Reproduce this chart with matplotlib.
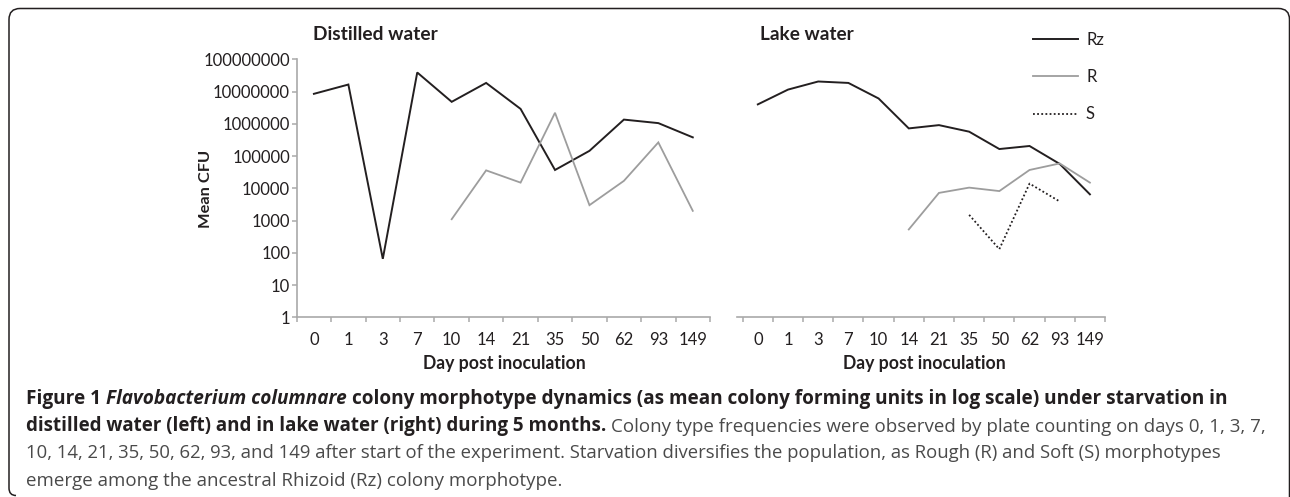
import numpy as np
import matplotlib
matplotlib.use("Agg")
import matplotlib.pyplot as plt
from matplotlib.path import Path
from matplotlib.patches import PathPatch
from matplotlib.ticker import FixedLocator, NullLocator

nan = np.nan

# ---------------- data ----------------
days = ["0", "1", "3", "7", "10", "14", "21", "35", "50", "62", "93", "149"]

distilled_rz = [8.5e6, 1.65e7, 65, 3.9e7, 4.8e6, 1.85e7, 2.9e6, 3.7e4, 1.45e5, 1.35e6, 1.05e6, 3.8e5]
distilled_r = [nan, nan, nan, nan, 1.1e3, 3.6e4, 1.5e4, 2.2e6, 3.0e3, 1.7e4, 2.65e5, 2.0e3]

lake_rz = [4.0e6, 1.15e7, 2.05e7, 1.85e7, 6.1e6, 7.2e5, 9.1e5, 5.7e5, 1.65e5, 2.05e5, 5.7e4, 6.5e3]
lake_r = [nan, nan, nan, nan, nan, 5.3e2, 7.2e3, 1.05e4, 8.2e3, 3.7e4, 5.9e4, 1.5e4]
lake_s = [nan, nan, nan, nan, nan, nan, nan, 1.5e3, 1.3e2, 1.4e4, 3.9e3, nan]

y_ticks = [1, 10, 100, 1000, 10000, 100000, 1000000, 10000000, 100000000]
y_tick_labels = ["1", "10", "100", "1000", "10000", "100000", "1000000", "10000000", "100000000"]

series_labels = ["Rz", "R", "S"]
panel_titles = ["Distilled water", "Lake water"]
y_label = "Mean CFU"
x_label = "Day post inoculation"

caption_lines = [
    [("Figure 1", "bold", "normal"),
     ("Flavobacterium columnare", "bold", "italic"),
     ("colony morphotype dynamics (as mean colony forming units in log scale) under starvation in", "bold", "normal")],
    [("distilled water (left) and in lake water (right) during 5 months.", "bold", "normal"),
     ("Colony type frequencies were observed by plate counting on days 0, 1, 3, 7,", "normal", "normal")],
    [("10, 14, 21, 35, 50, 62, 93, and 149 after start of the experiment. Starvation diversifies the population, as Rough (R) and Soft (S) morphotypes", "normal", "normal")],
    [("emerge among the ancestral Rhizoid (Rz) colony morphotype.", "normal", "normal")],
]

# ---------------- style ----------------
W, H = 1290, 497
CHART_FONT = ["Lato", "DejaVu Sans"]
CAP_FONT = ["Open Sans", "DejaVu Sans"]
DARK = "#231f20"
CAP_GRAY = "#4a4a4a"
R_GRAY = "#9d9d9d"
AXIS_GRAY = "#a9a9a9"

plt.rcParams["font.family"] = CHART_FONT

fig = plt.figure(figsize=(W / 100, H / 100), dpi=100)
fig.patch.set_facecolor("white")
renderer = fig.canvas.get_renderer()


def px_axes(x0, x1, ytop, ybot):
    return fig.add_axes([x0 / W, 1 - ybot / H, (x1 - x0) / W, (ybot - ytop) / H])


def fx(x):
    return x / W


def fy(y):
    return 1 - y / H


ax1 = px_axes(296.7, 710.0, 59.3, 317.3)
ax2 = px_axes(736.7, 1105.0, 59.3, 317.3)

xpos = np.arange(len(days))

for ax in (ax1, ax2):
    ax.set_yscale("log")
    ax.set_ylim(1, 1e8)
    ax.yaxis.set_major_locator(FixedLocator(y_ticks))
    ax.set_yticklabels(y_tick_labels)
    ax.yaxis.set_minor_locator(NullLocator())
    ax.set_xticks(xpos)
    ax.set_xticklabels(days)
    ax.set_xticks(np.arange(-0.5, len(days), 1.0), minor=True)
    ax.tick_params(axis="x", which="major", length=0, pad=10.5, labelsize=12, labelcolor=DARK)
    ax.tick_params(axis="x", which="minor", length=3.3, width=1.1, color=AXIS_GRAY, direction="out")
    ax.tick_params(axis="y", which="major", length=3.6, width=1.1, color=AXIS_GRAY, pad=1.2,
                   labelsize=12, labelcolor=DARK)
    for s in ("top", "right"):
        ax.spines[s].set_visible(False)
    for s in ("left", "bottom"):
        ax.spines[s].set_color(AXIS_GRAY)
        ax.spines[s].set_linewidth(1.2)
    ax.patch.set_alpha(0)

ax1.set_xlim(-0.5, 11.5)
ax2.set_xlim(-0.7, 11.5)
ax2.spines["left"].set_visible(False)
ax2.tick_params(axis="y", left=False, labelleft=False)

ax1.plot(xpos, distilled_rz, color=DARK, lw=1.4, solid_joinstyle="miter")
ax1.plot(xpos, distilled_r, color=R_GRAY, lw=1.3, solid_joinstyle="miter")

l_rz, = ax2.plot(xpos, lake_rz, color=DARK, lw=1.4, solid_joinstyle="miter")
l_r, = ax2.plot(xpos, lake_r, color=R_GRAY, lw=1.3, solid_joinstyle="miter")
l_s, = ax2.plot(xpos, lake_s, color=DARK, lw=1.3, linestyle=(0, (1.0, 1.3)))

leg = ax2.legend([l_rz, l_r, l_s], series_labels, loc="upper left",
                 bbox_to_anchor=(fx(1033), fy(32)), bbox_transform=fig.transFigure,
                 frameon=False, borderpad=0, borderaxespad=0, handlelength=2.7,
                 handletextpad=0.48, labelspacing=1.27, fontsize=12)
for t in leg.get_texts():
    t.set_color(DARK)


def fit_text(t, target):
    bb = t.get_window_extent(renderer)
    w = bb.width if t.get_rotation() == 0 else bb.height
    t.set_fontsize(t.get_fontsize() * target / w)


# titles
for title, x0, tw in zip(panel_titles, (313.0, 760.0), (125.0, 94.0)):
    t = fig.text(fx(x0), fy(40), title, ha="left", va="baseline", fontsize=13,
                 fontweight="bold", color=DARK)
    fit_text(t, tw)

# y label
t = fig.text(fx(206.5), fy(189), y_label, rotation=90, ha="center", va="center",
             fontsize=13, fontweight="bold", color=DARK)
fit_text(t, 78.0)

# x labels
for cx in (504.0, 924.0):
    t = fig.text(fx(cx), fy(368.5), x_label, ha="center", va="baseline", fontsize=13,
                 fontweight="bold", color=DARK)
    fit_text(t, 162.0)


# ---------------- caption ----------------
def space_width(size, weight, style):
    a = fig.text(0, 0, "aa", fontsize=size, fontweight=weight, fontstyle=style, family=CAP_FONT)
    b = fig.text(0, 0, "a a", fontsize=size, fontweight=weight, fontstyle=style, family=CAP_FONT)
    w = b.get_window_extent(renderer).width - a.get_window_extent(renderer).width
    a.remove()
    b.remove()
    return w


def draw_line(segs, x0, base_y, size):
    arts = []
    x = x0
    for i, (txt, weight, style) in enumerate(segs):
        if i > 0:
            x += space_width(size, segs[i - 1][1], segs[i - 1][2])
        col = DARK if weight == "bold" else CAP_GRAY
        t = fig.text(fx(x), fy(base_y), txt, ha="left", va="baseline", fontsize=size,
                     fontweight=weight, fontstyle=style, family=CAP_FONT, color=col)
        arts.append(t)
        x = t.get_window_extent(renderer).x1
    return arts, x - x0


cap_x0 = 26.0
cap_baselines = [404.3, 431.5, 458.5, 485.5]
cap_targets = [1196.0, 1236.0, 1188.0, None]
base_size = 13.0
sizes = []
for segs, by, tgt in zip(caption_lines, cap_baselines, cap_targets):
    if tgt is None:
        size = float(np.mean(sizes))
    else:
        arts, w = draw_line(segs, cap_x0, by, base_size)
        for a in arts:
            a.remove()
        size = base_size * tgt / w
        sizes.append(size)
    draw_line(segs, cap_x0, by, size)

# ---------------- border ----------------
r = 11.0
pts = [
    (16, 495.5), (9, 495.5), (9, 488),
    (9, 8.5 + r),
    (9, 8.5), (9 + r, 8.5),
    (1289.5 - r, 8.5),
    (1289.5, 8.5), (1289.5, 8.5 + r),
    (1289.5, 497),
]
codes = [Path.MOVETO, Path.CURVE3, Path.CURVE3,
         Path.LINETO,
         Path.CURVE3, Path.CURVE3,
         Path.LINETO,
         Path.CURVE3, Path.CURVE3,
         Path.LINETO]
path = Path([(fx(px), fy(py)) for px, py in pts], codes)
fig.add_artist(PathPatch(path, facecolor="none", edgecolor=DARK, lw=1.1,
                         transform=fig.transFigure))

fig.savefig("out.png", dpi=100, facecolor="white")
